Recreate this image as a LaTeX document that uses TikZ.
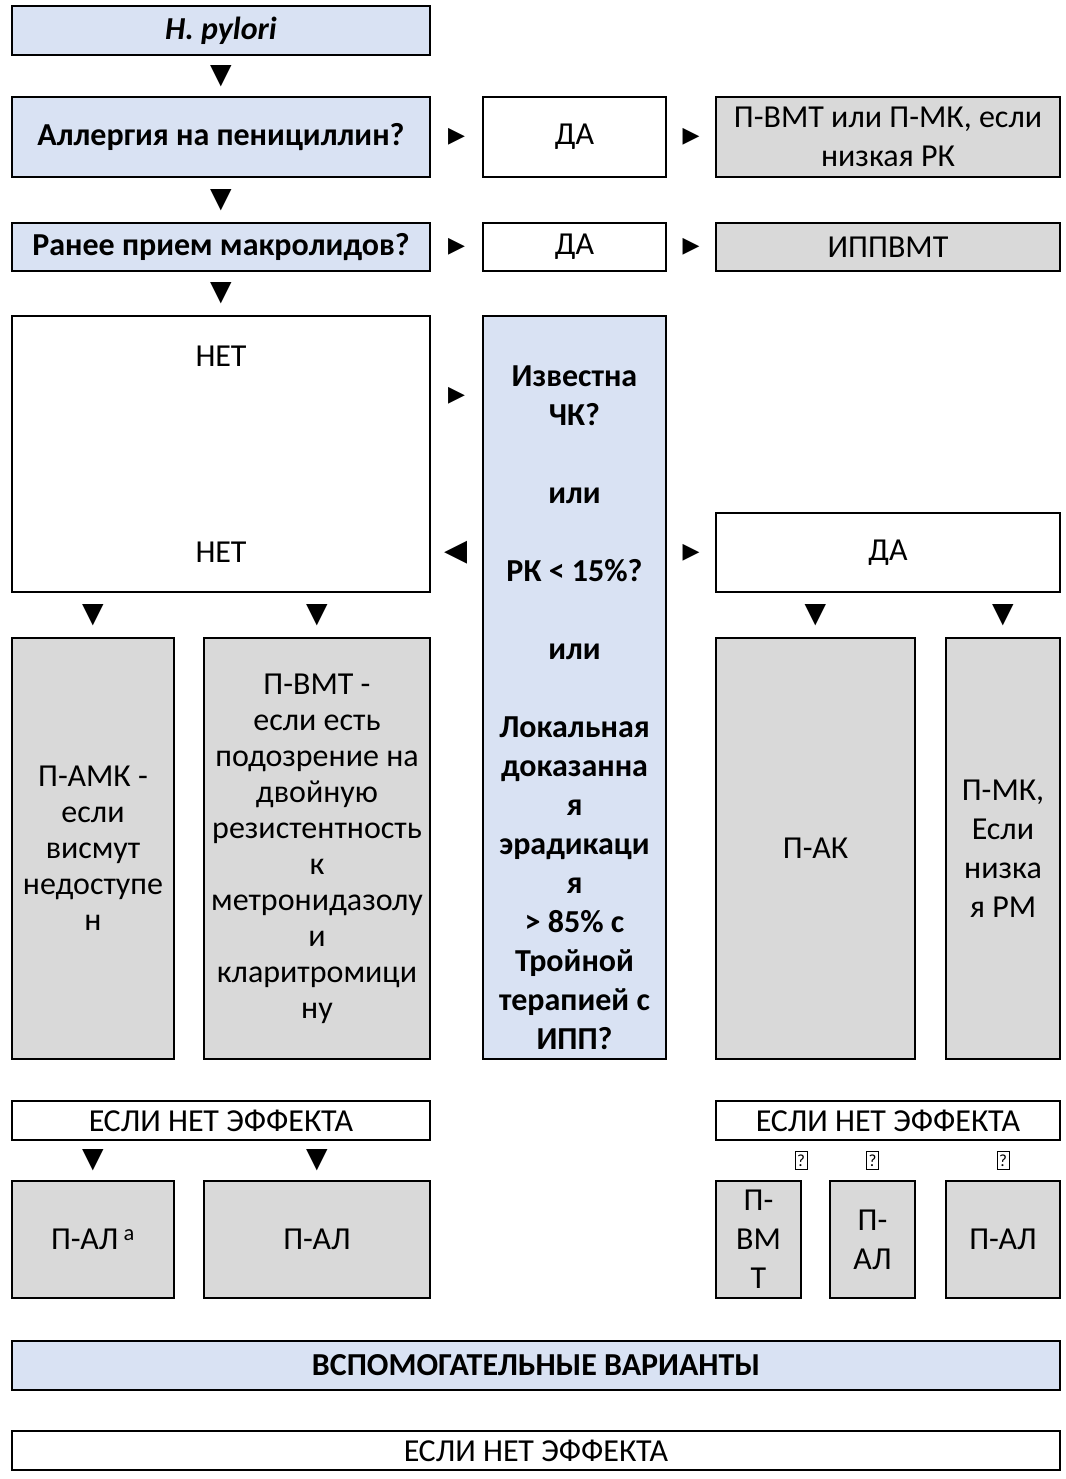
\documentclass[tikz,border=0pt]{standalone}
\usepackage{fontspec}
\setmainfont{Carlito}
\newfontfamily\symfont{DejaVu Sans}
\usetikzlibrary{positioning}
\definecolor{qblue}{HTML}{D9E2F3}
\definecolor{qgrey}{HTML}{D9D9D9}

\begin{document}
\begin{tikzpicture}[x=1pt,y=-1pt]
        \tikzstyle{box}=[draw,line width=2pt,outer sep=0pt,inner sep=0pt,align=center,font=\fontsize{32}{36}\selectfont]
        \tikzstyle{q node}=[box,fill=qblue,font=\fontsize{32}{39}\selectfont\bfseries]
        \tikzstyle{yes node}=[box]
        \tikzstyle{rx node}=[box,fill=qgrey]
        \tikzstyle{dn}=[inner sep=0pt,font=\symfont\fontsize{28}{28}\selectfont]
        \tikzstyle{rt}=[inner sep=0pt,font=\symfont\fontsize{22}{22}\selectfont]
        \tikzstyle{lt}=[inner sep=0pt,font=\symfont\fontsize{30}{30}\selectfont]
        \tikzstyle{qm}=[draw,line width=0.9pt,inner sep=0pt,minimum width=12pt,minimum height=18pt,font=\fontsize{17}{17}\selectfont]
        \useasboundingbox (0,0) rectangle (1065,1479);

        \node[q node,minimum width=418pt,minimum height=49pt,anchor=north west] (HP) at (12,6) {\itshape H. pylori};
        \node[q node,minimum width=418pt,minimum height=80pt,below=42pt of HP] (Allergy) {Аллергия на пенициллин?};
        \node[yes node,minimum width=183pt,minimum height=80pt,right=53pt of Allergy] (Yes1) {ДА};
        \node[rx node,minimum width=344pt,minimum height=80pt,right=50pt of Yes1,font=\fontsize{32}{39}\selectfont] (PVMT) {П-ВМТ или П-МК, если\\низкая РК};
        \node[q node,minimum width=418pt,minimum height=48pt,below=46pt of Allergy] (Macro) {Ранее прием макролидов?};
        \node[yes node,minimum width=183pt,minimum height=48pt,right=53pt of Macro] (Yes2) {ДА};
        \node[rx node,minimum width=344pt,minimum height=48pt,right=50pt of Yes2] (IPP) {ИППВМТ};
        \node[yes node,minimum width=418pt,minimum height=276pt,below=45pt of Macro] (No) {НЕТ\\[160pt]НЕТ};
        \node[q node,minimum width=183pt,minimum height=743pt,below=45pt of Yes2] (Known) {\mbox{}\\[22pt]Известна\\ЧК?\\\\или\\\\РК < 15\%?\\\\или\\\\Локальная\\доказанна\\я\\эрадикаци\\я\\> 85\% с\\Тройной\\терапией с\\ИПП?};
        \node[yes node,minimum width=344pt,minimum height=79pt,anchor=south] (Yes3) at (IPP.south |- No.south) {ДА};
        \node[rx node,minimum width=162pt,minimum height=421pt,below=46pt of No.south west,anchor=north west] (PAMK) {П-АМК -\\если\\висмут\\недоступе\\н};
        \node[rx node,minimum width=226pt,minimum height=421pt,right=30pt of PAMK] (PVMT2) {П-ВМТ -\\если есть\\подозрение на\\двойную\\резистентность\\к\\метронидазолу\\и\\кларитромици\\ну};
        \node[rx node,minimum width=199pt,minimum height=421pt,below=46pt of Yes3.south west,anchor=north west] (PAK) {П-АК};
        \node[rx node,minimum width=114pt,minimum height=421pt,right=31pt of PAK,font=\fontsize{32}{39}\selectfont] (PMK) {П-МК,\\Если\\низка\\я РМ};
        \node[yes node,minimum width=418pt,minimum height=39pt,below=42pt of PAMK.south west,anchor=north west] (Fail1) {ЕСЛИ НЕТ ЭФФЕКТА};
        \node[yes node,minimum width=344pt,minimum height=39pt,below=42pt of PAK.south west,anchor=north west] (Fail2) {ЕСЛИ НЕТ ЭФФЕКТА};
        \node[rx node,minimum width=162pt,minimum height=117pt,below=41pt of Fail1.south west,anchor=north west] (PAL1) {П-АЛ\,\textsuperscript{a}};
        \node[rx node,minimum width=226pt,minimum height=117pt,right=30pt of PAL1] (PAL2) {П-АЛ};
        \node[rx node,minimum width=85pt,minimum height=117pt,below=41pt of Fail2.south west,anchor=north west,font=\fontsize{32}{39}\selectfont] (PVMT3) {П-\\ВМ\\Т};
        \node[rx node,minimum width=85pt,minimum height=117pt,right=29pt of PVMT3,font=\fontsize{32}{39}\selectfont] (PAL3) {П-\\АЛ};
        \node[rx node,minimum width=114pt,minimum height=117pt,right=31pt of PAL3] (PAL4) {П-АЛ};
        \node[q node,minimum width=1048pt,minimum height=49pt,below=43pt of PAL1.south west,anchor=north west] (Aux) {ВСПОМОГАТЕЛЬНЫЕ ВАРИАНТЫ};
        \node[yes node,minimum width=1048pt,minimum height=39pt,below=41pt of Aux.south west,anchor=north west] (Fail3) {ЕСЛИ НЕТ ЭФФЕКТА};

        \path (HP) -- node[dn] {▼} (Allergy);
        \path (Allergy) -- node[dn] {▼} (Macro);
        \path (Macro) -- node[dn] {▼} (No);
        \path (Allergy) -- node[rt] {▶} (Yes1);
        \path (Yes1) -- node[rt] {▶} (PVMT);
        \path (Macro) -- node[rt] {▶} (Yes2);
        \path (Yes2) -- node[rt] {▶} (IPP);
        \path ([yshift=-80pt]No.north east) -- node[rt] {▶} ([yshift=-80pt]Known.north west);
        \path (No.east |- Yes3) -- node[lt] {◀} (Known.west |- Yes3);
        \path (Known.east |- Yes3) -- node[rt] {▶} (Yes3);
        \path (No.south -| PAMK) -- node[dn] {▼} (PAMK);
        \path (No.south -| PVMT2) -- node[dn] {▼} (PVMT2);
        \path (Yes3.south -| PAK) -- node[dn] {▼} (PAK);
        \path (Yes3.south -| PMK) -- node[dn] {▼} (PMK);
        \path (Fail1.south -| PAL1) -- node[dn] {▼} (PAL1);
        \path (Fail1.south -| PAL2) -- node[dn] {▼} (PAL2);
        \path (Fail2.south -| PVMT3.north east) -- node[qm] {?} (PVMT3.north east);
        \path (Fail2.south -| PAL3) -- node[qm] {?} (PAL3);
        \path (Fail2.south -| PAL4) -- node[qm] {?} (PAL4);
\end{tikzpicture}
\end{document}
